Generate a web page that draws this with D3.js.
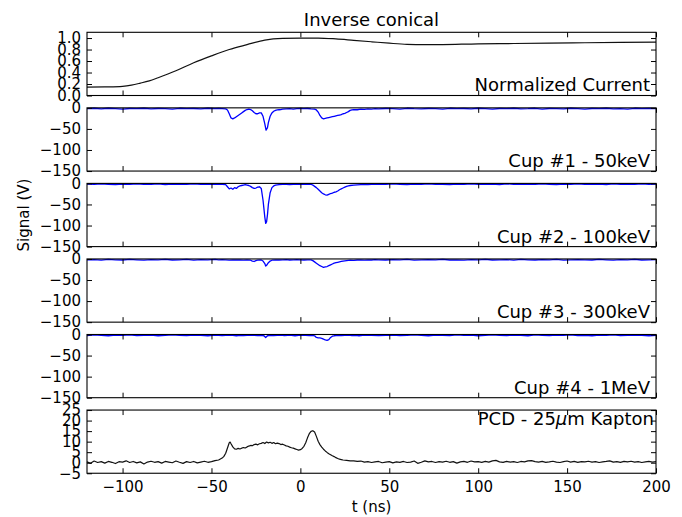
<!DOCTYPE html>
<html>
<head>
<meta charset="utf-8">
<script src="https://cdn.jsdelivr.net/npm/d3@7"></script>
<style>
body{margin:0;background:#fff}
svg{display:block;font-family:"DejaVu Sans",sans-serif}
</style>
</head>
<body>
<svg></svg>
<script>
var screen = {width:682,height:517}
var margins = {top:32.3,left:87,right:26}
var panelH = 63.2
var panelStep = 75.55

//tick values
var timeTicks = [-100,-50,0,50,100,150,200]
var currentTicks = [0,0.2,0.4,0.6,0.8,1.0]
var cupTicks = [0,-50,-100,-150]
var pcdTicks = [-5,0,5,10,15,20,25]

//normalized current
var currentT = [-120,-110,-100,-95,-90,-85,-80,-70,-60,-50,-40,-30,-20,-10,0,10,20,30,40,50,60,70,80,100,120,140,160,180,200]
var currentV = [0.145,0.15,0.16,0.18,0.215,0.255,0.31,0.43,0.57,0.69,0.8,0.885,0.965,0.995,1.0,1.0,0.985,0.96,0.935,0.91,0.89,0.885,0.887,0.9,0.905,0.912,0.918,0.924,0.93]

//faraday cups, [t (ns), signal (V)]
var cup1 = [[-120,-2],[-116,-1],[-112,-2.5],[-108,-1],[-104,-2],[-100,-3],[-96,-1.5],[-92,-2],[-88,-1],[-84,-2.5],[-80,-1.5],[-76,-2],[-72,-3],[-68,-1],[-64,-2],[-60,-1.5],[-56,-2.5],[-52,-1],[-48,-2],
  [-46,-1.5],[-44,-2],[-42,-2.5],[-41,-5],[-40,-14],[-39,-24],[-38,-26],[-37,-24],[-36,-21],[-35,-18],[-34,-15],[-33,-12],[-32,-9],[-31,-6],[-30,-4],[-29,-3],[-28,-4],[-27,-7],[-26,-11],[-25,-14],[-24,-14],[-23,-12],[-22,-12],[-21,-20],[-20,-38],[-19.3,-53],[-18.5,-47],[-18,-35],[-17,-20],[-16,-12],[-15,-8],[-14,-6],[-13,-5],[-12,-4.5],[-11,-4],[-10,-3],[-8,-2.5],[-6,-2],[-4,-3],[-2,-2],[0,-1.5],[2,-2],[4,-1.5],[6,-2.5],[8,-3],[9,-5],[10,-10],[11,-18],[12,-24],[13,-26],[14,-25],[15,-24],[16,-23],[17,-22],[18,-21],[19,-20],[20,-19],[21,-18],[22,-17],[23,-16],[24,-14],[25,-13],[26,-11],[27,-9],[28,-6],[29,-5],[30,-4],[32,-4.5],[34,-3],[36,-3.5],[38,-2.5],[40,-3],[42,-2],[44,-2.5],
  [48,-1.5],[52,-2],[56,-3],[60,-1],[64,-2],[68,-2.5],[72,-1.5],[76,-2],[80,-3],[84,-1],[88,-2],[92,-1.5],[96,-2.5],[100,-1],[104,-2],[108,-3],[112,-1.5],[116,-2],[120,-1],[124,-2.5],[128,-2],[132,-1],[136,-3],[140,-1.5],[144,-2],[148,-2.5],[152,-1],[156,-2],[160,-3],[164,-1.5],[168,-2],[172,-1],[176,-2.5],[180,-2],[184,-3],[188,-1],[192,-2],[196,-1.5],[200,-2]]

var cup2 = [[-120,-1.5],[-116,-2.5],[-112,-1],[-108,-2],[-104,-3],[-100,-1.5],[-96,-2],[-92,-1],[-88,-2.5],[-84,-2],[-80,-1],[-76,-3],[-72,-1.5],[-68,-2],[-64,-2.5],[-60,-1],[-56,-2],[-52,-1.5],[-48,-2.5],
  [-46,-2],[-44,-2],[-42,-3],[-41,-8],[-40,-13],[-39,-11],[-38,-14],[-37,-10],[-36,-12],[-35,-8],[-34,-6],[-33,-5],[-32,-4],[-31,-3],[-30,-4],[-29,-5],[-28,-7],[-27,-10],[-26,-12],[-25,-11],[-24,-9],[-23,-8],[-22,-12],[-21,-40],[-20,-80],[-19.5,-95],[-19,-91],[-18.5,-74],[-18,-50],[-17,-22],[-16,-10],[-15,-6],[-14,-4],[-12,-3],[-10,-2.5],[-8,-2],[-6,-3],[-4,-2],[-2,-1.5],[0,-2],[2,-2.5],[4,-1.5],[6,-2],[7,-4],[8,-7],[9,-10],[10,-14],[11,-18],[12,-22],[13,-25],[14,-27],[15,-28],[16,-26],[17,-24],[18,-23],[19,-21],[20,-20],[21,-18],[22,-15],[23,-13],[24,-11],[25,-9],[26,-7],[27,-6],[28,-5],[30,-4],[32,-3.5],[34,-3],[36,-2.5],[38,-3],[40,-2],[42,-2.5],[44,-2],
  [48,-2.5],[52,-1],[56,-2],[60,-3],[64,-1.5],[68,-2],[72,-1],[76,-2.5],[80,-2],[84,-3],[88,-1.5],[92,-2],[96,-1],[100,-2.5],[104,-2],[108,-1.5],[112,-3],[116,-1],[120,-2],[124,-1.5],[128,-2.5],[132,-2],[136,-1],[140,-2],[144,-3],[148,-1.5],[152,-2],[156,-1],[160,-2.5],[164,-2],[168,-1.5],[172,-3],[176,-1],[180,-2],[184,-1.5],[188,-2.5],[192,-1],[196,-2],[200,-1.5]]

var cup3 = [[-120,-2],[-116,-1.5],[-112,-3],[-108,-1],[-104,-2],[-100,-2.5],[-96,-1],[-92,-2],[-88,-3],[-84,-1.5],[-80,-2],[-76,-1],[-72,-2.5],[-68,-2],[-64,-1],[-60,-3],[-56,-1.5],[-52,-2],[-48,-1],
  [-46,-2],[-44,-1.5],[-42,-2],[-40,-3],[-38,-2],[-36,-2.5],[-34,-2],[-32,-3],[-30,-2],[-28,-3],[-27,-5],[-26,-6],[-25,-4],[-24,-3],[-22,-2.5],[-21,-5],[-20,-11],[-19.5,-17],[-19,-15],[-18,-9],[-17,-5],[-16,-3],[-14,-2],[-12,-2.5],[-10,-2],[-8,-1.5],[-6,-2.5],[-4,-2],[-2,-1.5],[0,-2],[2,-2.5],[4,-2],[6,-2],[7,-4],[8,-7],[9,-10],[10,-13],[11,-16],[12,-18],[13,-20],[14,-19],[15,-18],[16,-16],[17,-14],[18,-12],[19,-10],[20,-9],[21,-8],[22,-7],[23,-6],[24,-5],[26,-4],[28,-3],[30,-3.5],[32,-2.5],[34,-2],[36,-3],[38,-2],[40,-2.5],[42,-1.5],[44,-2],
  [48,-2.5],[52,-1.5],[56,-2],[60,-1],[64,-3],[68,-2],[72,-1.5],[76,-2],[80,-1],[84,-2.5],[88,-2],[92,-3],[96,-1.5],[100,-2],[104,-1],[108,-2.5],[112,-2],[116,-1.5],[120,-3],[124,-1],[128,-2],[132,-2.5],[136,-1.5],[140,-2],[144,-1],[148,-3],[152,-2],[156,-1.5],[160,-2],[164,-2.5],[168,-1],[172,-2],[176,-3],[180,-1.5],[184,-2],[188,-1],[192,-2.5],[196,-2],[200,-1.5]]

var cup4 = [[-120,-2.5],[-116,-1],[-112,-2],[-108,-3],[-104,-1.5],[-100,-2],[-96,-1],[-92,-2.5],[-88,-2],[-84,-1.5],[-80,-3],[-76,-2],[-72,-1],[-68,-2],[-64,-2.5],[-60,-1.5],[-56,-2],[-52,-3],[-48,-1.5],
  [-46,-2],[-44,-2.5],[-42,-2],[-40,-1.5],[-38,-2],[-36,-3],[-34,-2],[-32,-2.5],[-30,-2],[-28,-1.5],[-26,-2],[-24,-2.5],[-22,-2],[-20.5,-3],[-19.5,-7],[-18.5,-3],[-17,-2],[-15,-2.5],[-13,-2],[-11,-1.5],[-9,-2.5],[-7,-2],[-5,-2],[-3,-3],[-1,-2],[1,-1.5],[3,-2],[5,-2.5],[7,-2],[8,-3],[9,-7],[10,-8],[11,-8],[12,-9],[13,-11],[14,-13],[15,-14],[16,-12],[17,-7],[18,-4],[19,-3],[21,-2],[23,-2.5],[25,-2],[27,-1.5],[29,-2.5],[31,-2],[33,-3],[35,-2],[37,-1.5],[40,-2],[44,-2.5],
  [48,-2],[52,-1.5],[56,-2.5],[60,-2],[64,-1],[68,-2],[72,-3],[76,-1.5],[80,-2],[84,-2.5],[88,-1],[92,-2],[96,-1.5],[100,-3],[104,-2],[108,-1],[112,-2],[116,-2.5],[120,-1.5],[124,-2],[128,-3],[132,-1],[136,-2],[140,-2.5],[144,-1.5],[148,-2],[152,-1],[156,-2.5],[160,-2],[164,-3],[168,-1.5],[172,-2],[176,-1],[180,-2.5],[184,-2],[188,-1.5],[192,-2],[196,-3],[200,-2]]

//photoconducting detector
var pcd = [[-120,0.4],[-118,-0.3],[-116,0.8],[-114,0.1],[-112,0.5],[-110,-0.2],[-108,0.6],[-106,0.2],[-104,-0.4],[-102,0.5],[-100,0.3],[-98,0.9],[-96,0.1],[-94,0.6],[-92,-0.1],[-90,0.4],[-88,-0.6],[-86,0.3],[-84,0.7],[-82,0.2],[-80,0.5],[-78,-0.2],[-76,0.6],[-74,0.3],[-72,0.0],[-70,0.8],[-68,0.2],[-66,-0.3],[-64,0.5],[-62,0.1],[-60,0.6],[-58,-0.1],[-56,0.3],[-54,0.7],[-52,0.2],
  [-50,0.5],[-48,1.0],[-46,1.3],[-45,1.8],[-44,2.2],[-43,3.0],[-42,4.5],[-41,7.0],[-40,9.5],[-39.5,9.8],[-39,9.0],[-38,7.5],[-37,6.6],[-36,6.4],[-35,6.8],[-34,6.5],[-33,6.9],[-32,7.2],[-31,7.0],[-30,7.5],[-29,7.9],[-28,8.2],[-27,8.1],[-26,8.6],[-25,8.8],[-24,8.5],[-23,9.0],[-22,9.2],[-21,9.6],[-20,9.1],[-19,9.8],[-18,9.4],[-17,9.7],[-16,9.2],[-15,9.6],[-14,9.0],[-13,9.3],[-12,9.1],[-11,8.6],[-10,8.8],[-9,8.4],[-8,8.0],[-7,7.8],[-6,7.4],[-5,7.1],[-4,6.9],[-3,6.6],[-2,6.3],[-1,6.0],[0,6.2],[1,6.8],[2,7.8],[3,9.5],[4,11.8],[5,13.8],[6,14.9],[7,15.2],[8,14.6],[9,12.5],[10,10.2],[11,8.6],[12,7.4],[13,6.4],[14,5.6],[15,4.9],[16,4.3],[17,3.8],[18,3.3],[19,2.9],[20,2.4],[21,2.0],[22,1.7],[23,1.5],[24,1.3],[26,1.1],[28,0.9],
  [30,0.9],[32,0.6],[34,0.8],[36,0.3],[38,0.5],[40,0.1],[42,0.4],[44,0.6],[46,0.0],[48,0.3],[50,0.5],[52,-0.1],[54,0.4],[56,0.2],[58,0.6],[60,0.1],[62,0.3],[64,0.8],[66,-0.3],[68,0.2],[70,0.9],[72,0.4],[74,0.6],[76,0.1],[78,0.5],[80,0.3],[82,0.7],[84,0.2],[86,0.5],[88,-0.2],[90,0.4],[92,0.6],[94,0.2],[96,0.8],[98,0.4],[100,0.5],[102,0.2],[104,0.6],[106,0.3],[108,0.9],[110,1.1],[112,0.4],[114,0.2],[116,0.6],[118,0.3],[120,0.5],[122,0.1],[124,0.6],[126,0.4],[128,0.9],[130,1.0],[132,0.5],[134,0.3],[136,0.6],[138,0.2],[140,0.4],[142,0.7],[144,0.3],[146,0.1],[148,0.5],[150,0.8],[152,0.3],[154,0.6],[156,0.2],[158,0.5],[160,0.4],[162,0.7],[164,0.3],[166,0.5],[168,0.1],[170,0.4],[172,0.6],[174,0.9],[176,0.3],[178,0.5],[180,0.2],[182,0.6],[184,0.4],[186,0.7],[188,0.3],[190,0.5],[192,0.1],[194,0.4],[196,0.6],[198,0.3],[200,0.5]]

var panels = [
  {label:"Normalized Current", data:d3.zip(currentT,currentV), domain:[0,1.1], ticks:currentTicks, fmt:d3.format(".1f"), color:"#111", smooth:true},
  {label:"Cup #1 - 50keV", data:cup1, domain:[-150,0], ticks:cupTicks, fmt:d3.format("d"), color:"#0000ff"},
  {label:"Cup #2 - 100keV", data:cup2, domain:[-150,0], ticks:cupTicks, fmt:d3.format("d"), color:"#0000ff"},
  {label:"Cup #3 - 300keV", data:cup3, domain:[-150,0], ticks:cupTicks, fmt:d3.format("d"), color:"#0000ff"},
  {label:"Cup #4 - 1MeV", data:cup4, domain:[-150,0], ticks:cupTicks, fmt:d3.format("d"), color:"#0000ff"},
  {label:"PCD", data:pcd, domain:[-5,25], ticks:pcdTicks, fmt:d3.format("d"), color:"#111", top:true}
]

var svg = d3.select("svg")
  .attr("width",screen.width)
  .attr("height",screen.height)

var width = screen.width - margins.left - margins.right

var xScale = d3.scaleLinear()
  .domain([-120,200])
  .range([0,width])

panels.forEach(function(p,i)
{
  var g = svg.append("g")
    .attr("transform","translate("+margins.left+","+(margins.top+i*panelStep)+")")
  var yScale = d3.scaleLinear().domain(p.domain).range([panelH,0])
  var last = i==panels.length-1

  //data line
  var line = d3.line()
    .x(function(d){return xScale(d[0])})
    .y(function(d){return yScale(d[1])})
  if(p.smooth) line.curve(d3.curveMonotoneX)
  g.append("path")
    .datum(p.data)
    .attr("fill","none")
    .attr("stroke",p.color)
    .attr("stroke-width",p.color=="#0000ff"?1.3:1.2)
    .attr("stroke-linejoin","round")
    .attr("d",line)

  //axes, ticks pointing inwards on all four sides
  g.append("g").attr("transform","translate(0,"+panelH+")")
    .call(d3.axisBottom(xScale).tickValues(timeTicks).tickSizeInner(-5).tickSizeOuter(0).tickPadding(7.7)
      .tickFormat(last ? d3.format("d") : ""))
  g.append("g")
    .call(d3.axisTop(xScale).tickValues(timeTicks).tickSizeInner(-5).tickSizeOuter(0).tickFormat(""))
  g.append("g")
    .call(d3.axisLeft(yScale).tickValues(p.ticks).tickSizeInner(-5).tickSizeOuter(0).tickPadding(6).tickFormat(p.fmt))
  g.append("g").attr("transform","translate("+width+",0)")
    .call(d3.axisRight(yScale).tickValues(p.ticks).tickSizeInner(-5).tickSizeOuter(0).tickFormat(""))
  g.selectAll(".domain").remove()
  g.selectAll(".tick line").attr("stroke","#000")
  g.selectAll(".tick text").attr("fill","#000").style("font-size","15px").style("font-family","DejaVu Sans")

  //frame
  g.append("rect")
    .attr("width",width)
    .attr("height",panelH)
    .attr("fill","none")
    .attr("stroke","#000")
    .attr("stroke-width",1.1)

  //panel label
  var t = g.append("text")
    .attr("x",p.top ? width-2 : width-6)
    .attr("y",p.top ? 14.8 : panelH-4)
    .attr("text-anchor","end")
    .style("font-size","18px")
    .attr("fill","#000")
  if(p.label=="PCD")
  {
    t.append("tspan").text("PCD - 25")
    t.append("tspan").style("font-style","italic").text("\u03bc")
    t.append("tspan").text("m Kapton")
  }
  else t.text(p.label)
})

//title and axis labels
svg.append("text")
  .attr("x",margins.left+width/2)
  .attr("y",26)
  .attr("text-anchor","middle")
  .style("font-size","18px")
  .text("Inverse conical")

svg.append("text")
  .attr("x",margins.left+width/2)
  .attr("y",512)
  .attr("text-anchor","middle")
  .style("font-size","15px")
  .text("t (ns)")

svg.append("text")
  .attr("transform","translate(29,"+(margins.top+2*panelStep+panelH/2)+") rotate(-90)")
  .attr("text-anchor","middle")
  .style("font-size","15px")
  .text("Signal (V)")
</script>
</body>
</html>
